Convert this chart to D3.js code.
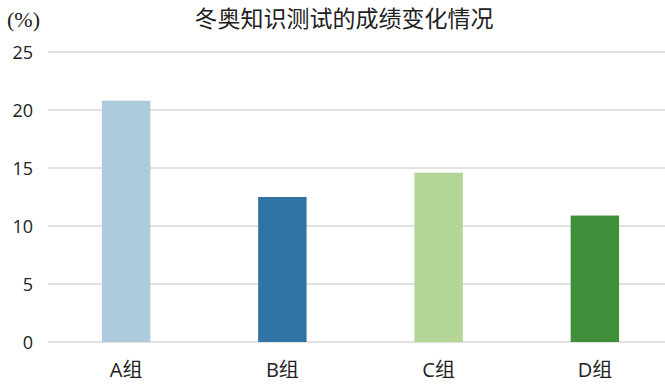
<!DOCTYPE html>
<html>
<head>
<meta charset="utf-8">
<script src="https://cdn.jsdelivr.net/npm/d3@7/dist/d3.min.js"></script>
<style>
  html, body { margin: 0; padding: 0; background: #fff; }
  svg { display: block; }
</style>
</head>
<body>
<svg id="chart" width="665" height="384"></svg>
<script>
const categories = ["A组", "B组", "C组", "D组"];
const values = [20.8, 12.5, 14.6, 10.9];
const barColors = ["#aecbdd", "#3173a3", "#b3d595", "#408f3a"];
const yTicks = [0, 5, 10, 15, 20, 25];
const titleText = "冬奥知识测试的成绩变化情况";
const unitText = "(%)";

const svg = d3.select("#chart");
const plot = { left: 48, right: 673, top: 52, bottom: 342 };

const x = d3.scaleBand()
  .domain(categories)
  .range([plot.left, plot.right])
  .paddingInner(0.69)
  .paddingOuter(0.345);

const y = d3.scaleLinear()
  .domain([0, 25])
  .range([plot.bottom, plot.top]);

// gridlines
svg.append("g")
  .selectAll("line")
  .data(yTicks)
  .join("line")
  .attr("x1", plot.left)
  .attr("x2", plot.right)
  .attr("y1", d => y(d))
  .attr("y2", d => y(d))
  .attr("stroke", "#d9d9d9")
  .attr("stroke-width", 1.5);

// y axis labels
const yAxis = d3.axisLeft(y).tickValues(yTicks).tickSize(0).tickPadding(0);
const yg = svg.append("g")
  .attr("transform", `translate(33,0)`)
  .call(yAxis);
yg.select(".domain").remove();
yg.selectAll("text")
  .attr("font-family", "'Open Sans', 'Noto Sans', sans-serif")
  .attr("font-size", 18)
  .attr("fill", "#222")
  .attr("dy", "0.36em");

// bars
svg.append("g")
  .selectAll("rect")
  .data(values)
  .join("rect")
  .attr("x", (d, i) => x(categories[i]))
  .attr("width", x.bandwidth())
  .attr("y", d => y(d))
  .attr("height", d => y(0) - y(d))
  .attr("fill", (d, i) => barColors[i]);

// x axis labels
const xAxis = d3.axisBottom(x).tickSize(0).tickPadding(0);
const xg = svg.append("g")
  .attr("transform", `translate(0,${plot.bottom})`)
  .call(xAxis);
xg.select(".domain").remove();
xg.selectAll("text")
  .attr("font-family", "'Open Sans', 'Noto Sans CJK SC', sans-serif")
  .attr("font-size", 20)
  .attr("fill", "#222")
  .attr("y", 0)
  .attr("dy", 0)
  .attr("transform", "translate(0,35)");

// title
svg.append("text")
  .attr("x", 344)
  .attr("y", 27)
  .attr("text-anchor", "middle")
  .attr("font-family", "'Noto Sans CJK SC', sans-serif")
  .attr("font-size", 23)
  .attr("font-weight", 400)
  .attr("fill", "#222")
  .text(titleText);

// unit
svg.append("text")
  .attr("x", 7)
  .attr("y", 27)
  .attr("font-family", "'Liberation Serif', serif")
  .attr("font-size", 22)
  .attr("fill", "#222")
  .text(unitText);
</script>
</body>
</html>
